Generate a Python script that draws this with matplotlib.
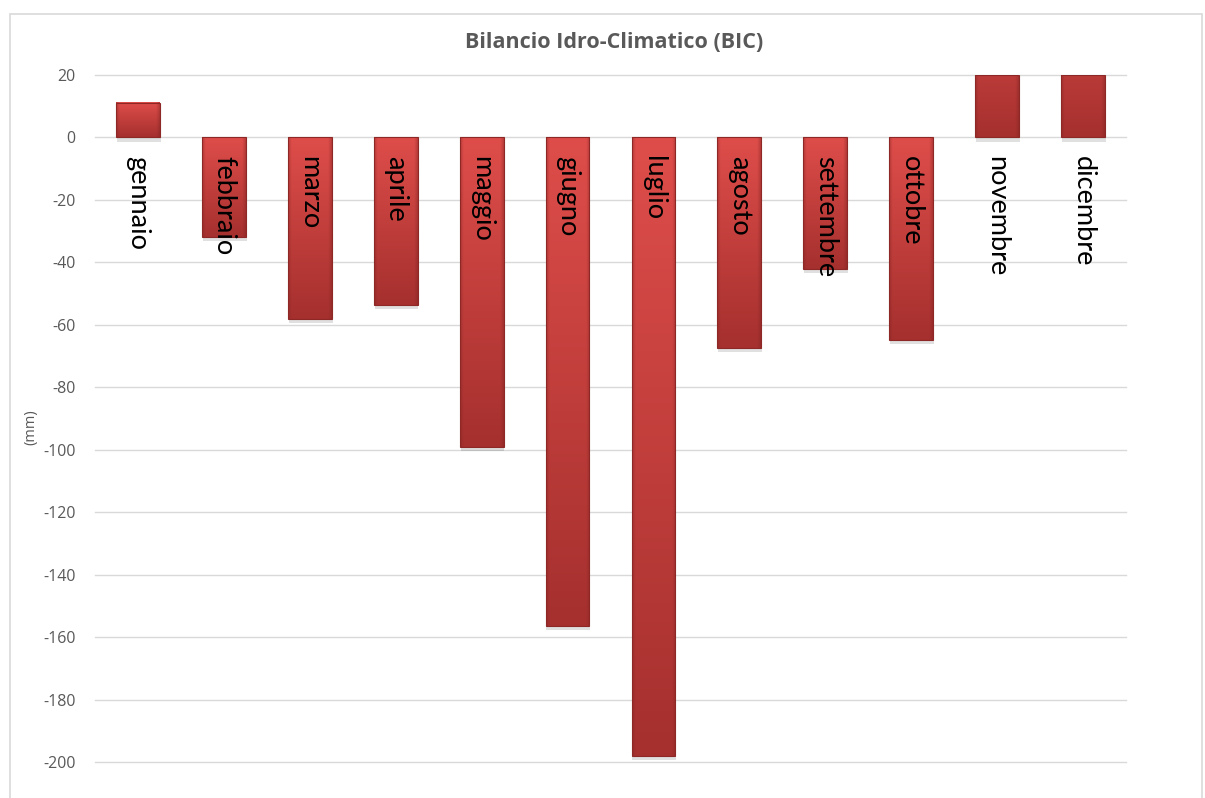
import matplotlib.pyplot as plt
import numpy as np
from matplotlib.colors import to_rgb
from matplotlib.patches import Rectangle

mesi = ['gennaio', 'febbraio', 'marzo', 'aprile', 'maggio', 'giugno',
        'luglio', 'agosto', 'settembre', 'ottobre', 'novembre', 'dicembre']
bic = [11, -32, -58, -53.5, -99, -156.5, -198, -67.5, -42, -65, 52, 55]

y_ticks = list(range(-200, 21, 20))
y_min, y_max = -200, 20

fig = plt.figure(figsize=(12.05, 7.98), dpi=100)
fig.patches.append(Rectangle((10 / 1205, -0.05), 1192 / 1205, 1.05 - 14 / 798,
                             transform=fig.transFigure, fill=False,
                             edgecolor='#D9D9D9', linewidth=1.2))

ax = fig.add_axes([95 / 1205, 1 - 762 / 798, (1126 - 95) / 1205, (762 - 75) / 798])
for s in ax.spines.values():
    s.set_visible(False)
ax.set_yticks(y_ticks)
ax.set_yticklabels([str(t) for t in y_ticks], fontsize=11.5, color='#595959',
                   family='Open Sans')
ax.tick_params(axis='y', length=0, pad=14)
ax.set_xticks([])
ax.yaxis.grid(True, color='#D9D9D9', linewidth=1)
for gl in ax.get_ygridlines():
    gl.set_clip_on(False)
ax.set_axisbelow(True)

light = np.array(to_rgb('#DE4D4A'))
dark = np.array(to_rgb('#A5302E'))
edge = np.array(to_rgb('#7A2220'))

w = 0.51
for i, v in enumerate(bic):
    lo, hi = min(0, v), max(0, v)
    top = min(hi, y_max)
    # drop shadow
    ax.add_patch(Rectangle((i - w / 2 + 0.01, lo - 1.3), w, top - lo,
                           facecolor='#000000', alpha=0.12, edgecolor='none', zorder=2))
    # gradient over the whole bar length, only the visible part is drawn
    ny, nx = 120, 40
    yy = np.linspace(top, lo, ny)
    t = ((hi - yy) / (hi - lo))[:, None, None]
    img = light * (1 - t) + dark * t
    xs = np.linspace(-1, 1, nx)
    side = np.clip((np.abs(xs) - 0.85) / 0.15, 0, 1)[None, :, None]
    img = img * (1 - 0.35 * side) + edge * 0.35 * side
    ax.imshow(img, extent=(i - w / 2, i + w / 2, lo, top), aspect='auto',
              origin='upper', zorder=3, interpolation='bilinear')
    ax.add_patch(Rectangle((i - w / 2, lo), w, top - lo, facecolor='none',
                           edgecolor='#8E2826', linewidth=0.8, zorder=4))
    # category label along the zero line
    ax.annotate(mesi[i], xy=(i, 0), xytext=(0, -13), textcoords='offset points',
                rotation=270, ha='center', va='top', fontsize=19.5,
                family='Lato', color='black', zorder=5)

ax.set_xlim(-0.5, len(mesi) - 0.5)
ax.set_ylim(y_min, y_max)

fig.text(614 / 1205, 1 - 43 / 798, 'Bilancio Idro-Climatico (BIC)', ha='center',
         va='center', fontsize=15.5, fontweight='bold', color='#595959',
         family='Open Sans')
fig.text(31 / 1205, 1 - 427 / 798, '(mm)', ha='center', va='center', rotation=90,
         fontsize=10.5, color='#595959', family='Open Sans')

fig.savefig('out.png', dpi=100)
